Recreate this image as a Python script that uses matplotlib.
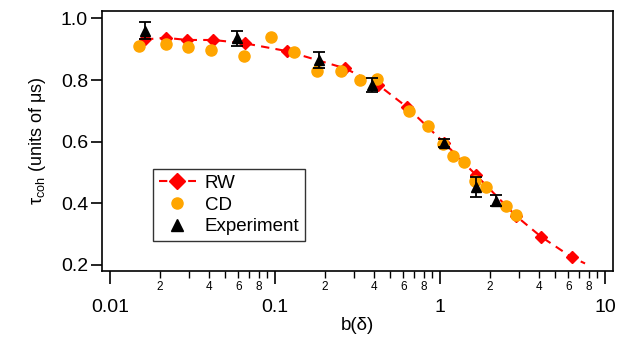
import matplotlib
matplotlib.use("Agg")
import matplotlib.pyplot as plt
from matplotlib.lines import Line2D
from matplotlib.ticker import FixedLocator, FixedFormatter

plt.rcParams['font.family'] = ['Liberation Sans', 'DejaVu Sans']
plt.rcParams['mathtext.fontset'] = 'custom'
plt.rcParams['mathtext.rm'] = 'Liberation Sans'
plt.rcParams['mathtext.it'] = 'Liberation Sans:italic'

# RW (random walk) model
rw_x = [0.0163, 0.0218, 0.0294, 0.0423, 0.0658, 0.1178, 0.2657, 0.4227,
        0.628, 1.057, 1.652, 2.876, 4.09, 6.29]
rw_y = [0.932, 0.937, 0.930, 0.930, 0.919, 0.894, 0.838, 0.784,
        0.713, 0.597, 0.492, 0.360, 0.292, 0.225]
# dashed RW curve (extends slightly past the last marker)
rw_line_x = rw_x + [7.57]
rw_line_y = rw_y + [0.205]

# CD model
cd_x = [0.0150, 0.0219, 0.0298, 0.0409, 0.0649, 0.0946, 0.1303, 0.1797,
        0.250, 0.327, 0.413, 0.649, 0.842, 1.042, 1.204, 1.403, 1.630,
        1.909, 2.50, 2.876]
cd_y = [0.909, 0.918, 0.908, 0.899, 0.879, 0.939, 0.890, 0.830,
        0.830, 0.800, 0.803, 0.699, 0.651, 0.592, 0.552, 0.533, 0.472,
        0.453, 0.392, 0.362]

# Experiment
ex_x = [0.0163, 0.0591, 0.1848, 0.3855, 1.06, 1.652, 2.17]
ex_y = [0.960, 0.935, 0.865, 0.783, 0.596, 0.452, 0.409]
ex_err = [0.027, 0.024, 0.027, 0.023, 0.012, 0.032, 0.018]

fig = plt.figure(figsize=(6.22, 3.44), dpi=100)
ax = fig.add_axes([102/622, 1-271/344, (613-102)/622, (271-11)/344])

ax.plot(rw_line_x, rw_line_y, color='#ff0000', ls=(0, (4, 3)), lw=1.5, zorder=2)
ax.plot(rw_x, rw_y, ls='none', marker='D', ms=6.5, color='#ff0000',
        mec='#ff0000', zorder=3)
ax.plot(cd_x, cd_y, ls='none', marker='o', ms=8, color='#ffa500',
        mec='#ffa500', zorder=4)
ax.errorbar(ex_x, ex_y, yerr=ex_err, fmt='^', ms=7, color='black',
            ecolor='black', elinewidth=1.3, capsize=4.5, capthick=1.3, zorder=5)

ax.set_xscale('log')
ax.set_xlim(0.00894, 11.18)
ax.set_ylim(0.1805, 1.024)

ax.xaxis.set_major_locator(FixedLocator([0.01, 0.1, 1, 10]))
ax.xaxis.set_major_formatter(FixedFormatter(['0.01', '0.1', '1', '10']))
minors = []
minor_labels = []
for dec in [0.01, 0.1, 1]:
    for m in range(2, 10):
        minors.append(m * dec)
        minor_labels.append(str(m) if m in (2, 4, 6, 8) else '')
ax.xaxis.set_minor_locator(FixedLocator(minors))
ax.xaxis.set_minor_formatter(FixedFormatter(minor_labels))

ax.set_yticks([0.2, 0.4, 0.6, 0.8, 1.0])
ax.set_yticklabels(['0.2', '0.4', '0.6', '0.8', '1.0'])

ax.tick_params(axis='x', which='major', direction='out', length=9, width=1.2,
               labelsize=14, pad=11, top=False)
ax.tick_params(axis='x', which='minor', direction='out', length=5, width=1.0,
               labelsize=8.5, pad=2, top=False)
ax.tick_params(axis='y', which='major', direction='out', length=8, width=1.2,
               labelsize=14, pad=2, right=False)
for s in ax.spines.values():
    s.set_linewidth(1.2)

ax.set_xlabel('b(δ)', fontsize=13.5, labelpad=1)
ax.set_ylabel('τ$_{\\mathrm{coh}}$ (units of μs)', fontsize=13, labelpad=9)

handles = [
    Line2D([], [], color='#ff0000', ls=(0, (4, 3)), lw=1.5, marker='D', ms=8),
    Line2D([], [], ls='none', color='#ffa500', marker='o', ms=8),
    Line2D([], [], ls='none', color='black', marker='^', ms=8),
]
leg = ax.legend(handles, ['RW', 'CD', 'Experiment'], loc='upper left',
                bbox_to_anchor=((153-102)/511, (271-169)/260), fontsize=13.5,
                frameon=True, fancybox=False, edgecolor='black',
                borderpad=0.3, labelspacing=0.25, handlelength=2.0,
                handletextpad=0.45, borderaxespad=0)
leg.get_frame().set_linewidth(1.0)

fig.savefig('out.png', dpi=100)
